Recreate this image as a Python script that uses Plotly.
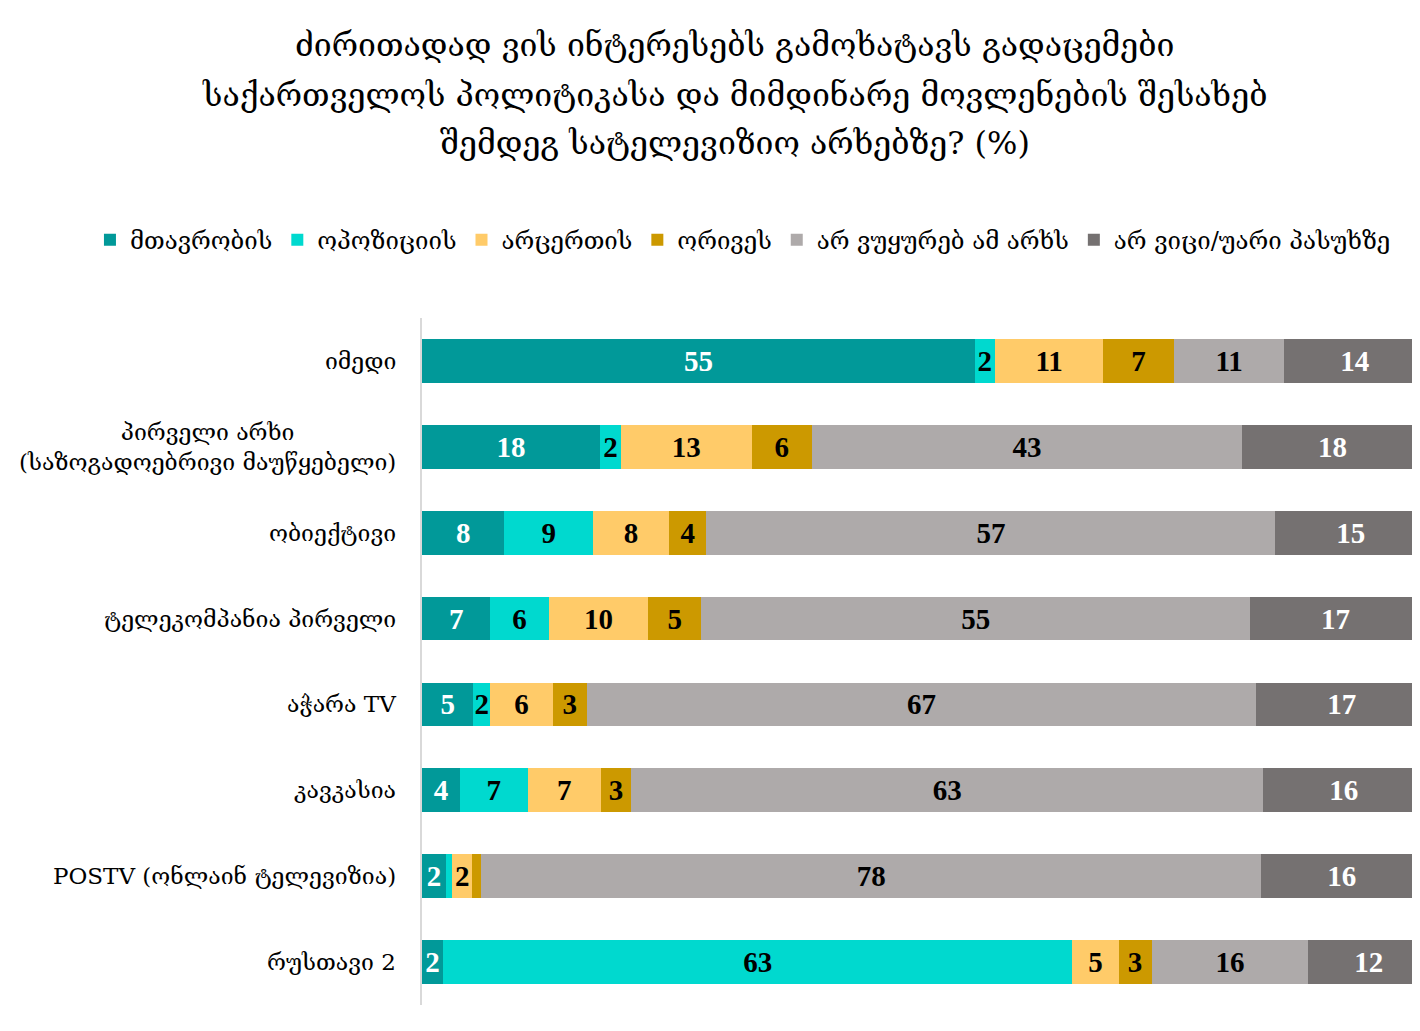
import plotly.graph_objects as go

# channels, top to bottom
channels = [
    "იმედი",
    "პირველი არხი<br>(საზოგადოებრივი მაუწყებელი)",
    "ობიექტივი",
    "ტელეკომპანია პირველი",
    "აჭარა TV",
    "კავკასია",
    "POSTV (ონლაინ ტელევიზია)",
    "რუსთავი 2",
]

series_names = ["მთავრობის", "ოპოზიციის", "არცერთის", "ორივეს",
                "არ ვუყურებ ამ არხს", "არ ვიცი/უარი პასუხზე"]

government = [55, 17.7, 8.2, 6.8, 5.1, 3.8, 2.4, 2.1]
opposition = [2, 2.1, 8.8, 5.8, 1.7, 6.7, 0.6, 62.6]
neither = [10.8, 13.0, 7.6, 9.9, 6.2, 7.3, 2.0, 4.6]
both = [7, 6.0, 3.7, 5.3, 3.4, 3.0, 0.9, 3.3]
dont_watch = [11, 42.8, 56.6, 54.6, 66.6, 62.9, 77.6, 15.6]
dont_know = [14, 18, 15, 17, 17, 16, 16, 12]

title_lines = ["ძირითადად ვის ინტერესებს გამოხატავს გადაცემები",
               "საქართველოს პოლიტიკასა და მიმდინარე მოვლენების შესახებ",
               "შემდეგ სატელევიზიო არხებზე? (%)"]

colors = ["#019999", "#00D9CF", "#FFCB69", "#CC9900", "#AEAAAA", "#757171"]
text_colors = ["white", "black", "black", "black", "black", "white"]

fig = go.Figure()
for name, vals, col, tcol in zip(series_names,
                                 [government, opposition, neither, both, dont_watch, dont_know],
                                 colors, text_colors):
    labels = [f"{v:.0f}" if v >= 1.5 else "" for v in vals]
    fig.add_trace(go.Bar(
        y=channels, x=vals, name=name, orientation="h",
        marker=dict(color=col, line=dict(width=0)),
        text=labels, textposition="inside", insidetextanchor="middle",
        textangle=0, constraintext="none", cliponaxis=True,
        textfont=dict(family="Liberation Serif, DejaVu Serif", size=29, color=tcol, weight="bold"),
        hoverinfo="x+name",
    ))

# category labels as annotations so the two-line one is centred
for ch in channels:
    fig.add_annotation(x=0, xref="paper", xanchor="right", xshift=-24,
                       y=ch, yref="y", text=ch, showarrow=False, align="center",
                       font=dict(family="DejaVu Serif, serif", size=23, color="black"))

# title lines placed one by one to get the wider line spacing
for line, ty in zip(title_lines, [1.397, 1.325, 1.255]):
    fig.add_annotation(x=0.316, xref="paper", xanchor="center", y=ty, yref="paper",
                       yanchor="middle", text=line, showarrow=False,
                       font=dict(family="DejaVu Serif, serif", size=32, color="black"))

# page has an 8px body margin, so the figure is a bit smaller than the window
fig.update_layout(
    width=1404, height=1015,
    barmode="stack", bargap=0.49,
    plot_bgcolor="white", paper_bgcolor="white",
    margin=dict(l=414, r=0, t=310, b=18),
    legend=dict(orientation="h", x=-0.3354, xanchor="left", y=1.1135, yanchor="middle",
                font=dict(family="DejaVu Serif, serif", size=24, color="black"),
                traceorder="normal", itemwidth=30),
    showlegend=True,
)
fig.update_xaxes(range=[0, 98.5], showgrid=False, showticklabels=False, zeroline=False,
                 showline=False)
fig.update_yaxes(autorange="reversed", showticklabels=False, showgrid=False,
                 showline=True, linecolor="#D9D9D9", linewidth=1.5, ticks="")

fig.write_html("out.html")
